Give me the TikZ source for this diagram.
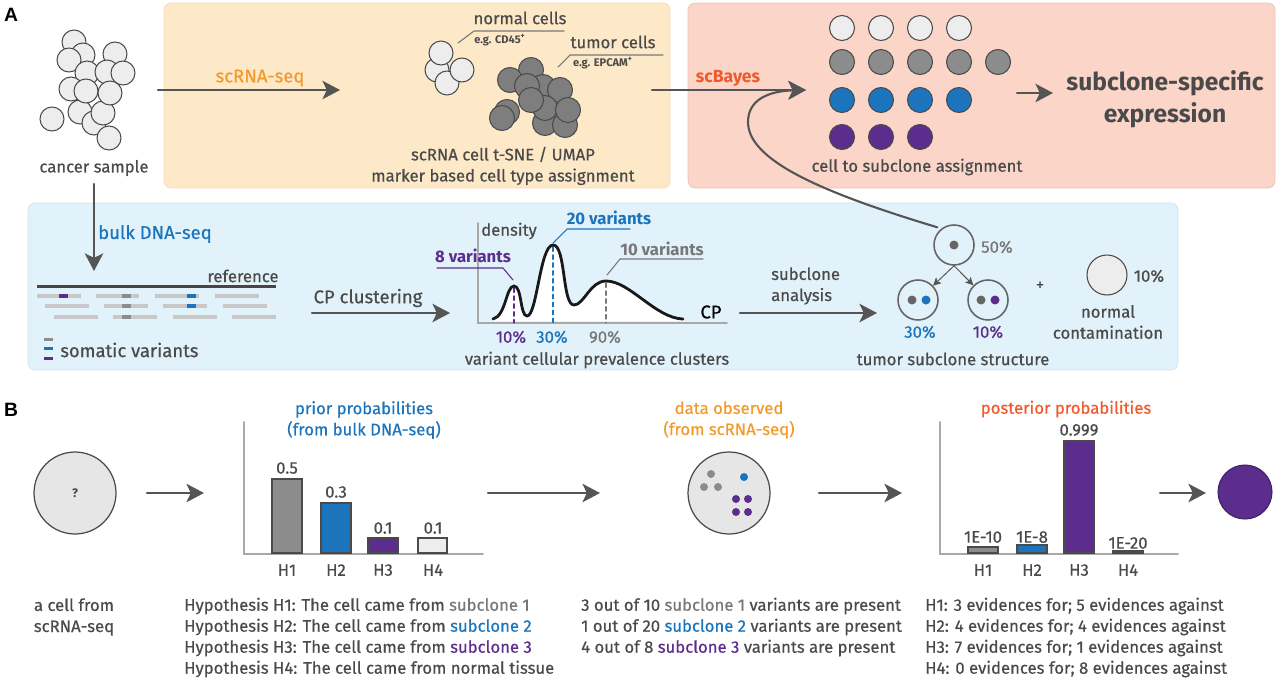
\documentclass[tikz,border=0pt]{standalone}
\usepackage{fontspec}
\setmainfont{Fira Sans}[UprightFeatures={FakeBold=0.5}]
\newfontfamily\headfont{Liberation Sans}
\usetikzlibrary{arrows.meta}

\definecolor{txtgray}{HTML}{4A4A4A}
\definecolor{arrgray}{HTML}{555555}
\definecolor{edgegray}{HTML}{4A4A4A}
\definecolor{cellgray}{HTML}{7E7E7E}
\definecolor{bargray}{HTML}{8C8C8C}
\definecolor{subgray}{HTML}{777777}
\definecolor{lightcell}{HTML}{EDEDED}
\definecolor{qfill}{HTML}{E6E6E6}
\definecolor{readgray}{HTML}{C8C8C8}
\definecolor{axisgray}{HTML}{A8A8A8}
\definecolor{refbrown}{HTML}{4A4541}
\definecolor{scblue}{HTML}{1C75BC}
\definecolor{scpurple}{HTML}{5C2D8C}
\definecolor{scorange}{HTML}{F39A2B}
\definecolor{scred}{HTML}{EE5A2C}
\definecolor{boxyellow}{RGB}{253,232,200}
\definecolor{boxyellowedge}{RGB}{248,220,178}
\definecolor{boxred}{RGB}{250,213,200}
\definecolor{boxrededge}{RGB}{240,192,180}
\definecolor{boxblue}{RGB}{226,242,250}
\definecolor{boxblueedge}{RGB}{206,228,240}

\begin{document}
\begin{tikzpicture}[x=0.02cm,y=-0.02cm,line cap=round,
  font=\fontsize{9.5}{12}\selectfont,text=txtgray,
  flow/.style={draw=arrgray,line width=1.2pt,-{Stealth[length=10pt,width=10.5pt,inset=2.5pt]}},
  thinflow/.style={draw=arrgray,line width=0.55pt,-{Stealth[length=4.5pt,width=4.5pt,inset=1pt]}},
  lcell/.style={fill=lightcell,draw=edgegray,line width=0.6pt},
  dcell/.style={fill=cellgray,draw=edgegray,line width=0.6pt},
  gcell/.style={fill=bargray,draw=edgegray,line width=0.6pt},
  bcell/.style={fill=scblue,draw=edgegray,line width=0.6pt},
  pcell/.style={fill=scpurple,draw=edgegray,line width=0.6pt},
  tnode/.style={circle,draw=edgegray!85,line width=0.9pt,minimum size=0.8cm,inner sep=0pt},
  qcell/.style={circle,fill=qfill,draw=edgegray,line width=0.7pt,minimum size=1.64cm,inner sep=0pt},
  leader/.style={line width=0.6pt},
  tag/.style={font=\fontsize{6.3}{7}\selectfont\bfseries},
  vlabel/.style={font=\fontsize{9.5}{12}\selectfont\bfseries},
  steplabel/.style={font=\fontsize{10.5}{12}\selectfont},
  panel/.style={font=\headfont\fontsize{11}{12}\selectfont\bfseries,text=black},
  bar/.style={draw=edgegray,line width=0.6pt}]
\useasboundingbox (0,0) rectangle (1280,683);

% ---- A: boxes
\filldraw[fill=boxyellow,draw=boxyellowedge,rounded corners=4pt] (164,3) rectangle (670,188);
\filldraw[fill=boxred,draw=boxrededge,rounded corners=4pt] (688,3) rectangle (1275,188);
\filldraw[fill=boxblue,draw=boxblueedge,rounded corners=4pt] (28,203) rectangle (1178,370);
\node[panel] (labA) at (11,15) {A};

% cancer sample
\draw[lcell] (74,42) circle (12);
\draw[lcell] (83,55) circle (12);
\draw[lcell] (69,60) circle (12);
\draw[lcell] (115,54) circle (12);
\draw[lcell] (87,73) circle (12);
\draw[lcell] (107,72) circle (12);
\draw[lcell] (123,73) circle (12);
\draw[lcell] (71,89) circle (12);
\draw[lcell] (80,112) circle (12);
\draw[lcell] (94,123) circle (12);
\draw[lcell] (86,91) circle (12);
\draw[lcell] (103,113) circle (12);
\draw[lcell] (110,93) circle (12);
\draw[lcell] (52,119) circle (12);
\draw[lcell] (109,138) circle (12);
\node (sample) at (94,168) {cancer sample};

% scRNA-seq
\coordinate (sampleR) at (158,90);
\coordinate (tsneL) at (340,90);
\draw[flow] (sampleR) -- (tsneL);
\node[steplabel,text=scorange] (scrna) at (260,78) {scRNA-seq};

\draw[lcell] (437,70) circle (12);
\draw[lcell] (441,53) circle (12);
\draw[lcell] (447,83) circle (12);
\draw[lcell] (462,70) circle (12);
\draw[dcell] (531,70) circle (12.5);
\draw[dcell] (510,80) circle (12.5);
\draw[dcell] (543,87) circle (12.5);
\draw[dcell] (560,90) circle (12.5);
\draw[dcell] (527,86) circle (12.5);
\draw[dcell] (507,112) circle (12.5);
\draw[dcell] (545,123) circle (12.5);
\draw[dcell] (565,125) circle (12.5);
\draw[dcell] (545,108) circle (12.5);
\draw[dcell] (568,110) circle (12.5);
\draw[dcell] (531,100) circle (12.5);
\draw[dcell] (502,118) circle (12.5);
\node (normal) at (520,18) {normal cells};
\node[tag] (cd45) at (500,40) {e.g. CD45\textsuperscript{+}};
\draw[leader,subgray] (564,31) -- (474,31) -- (458,43);
\node (tumor) at (613,42) {tumor cells};
\node[tag] (epcam) at (603,63) {e.g. EPCAM\textsuperscript{+}};
\draw[leader,subgray] (663,55) -- (570,55) -- (558,67);
\node[align=center] (tsne) at (503,166) {scRNA cell t-SNE / UMAP\\marker based cell type assignment};

% scBayes
\coordinate (tsneR) at (652,90);
\coordinate (assignL) at (806,90);
\draw[flow] (tsneR) -- (assignL);
\node[steplabel,font=\bfseries,text=scred] (scbayes) at (728,78) {scBayes};

\draw[lcell] (842,28) circle (12.5);
\draw[lcell] (881,28) circle (12.5);
\draw[lcell] (920,28) circle (12.5);
\draw[lcell] (959,28) circle (12.5);
\draw[gcell] (842,62) circle (12.5);
\draw[gcell] (881,62) circle (12.5);
\draw[gcell] (920,62) circle (12.5);
\draw[gcell] (959,62) circle (12.5);
\draw[gcell] (998,62) circle (12.5);
\draw[bcell] (842,100) circle (12.5);
\draw[bcell] (881,100) circle (12.5);
\draw[bcell] (920,100) circle (12.5);
\draw[bcell] (959,100) circle (12.5);
\draw[pcell] (842,137) circle (12.5);
\draw[pcell] (881,137) circle (12.5);
\draw[pcell] (920,137) circle (12.5);
\node (assign) at (917,167) {cell to subclone assignment};
\coordinate (assignR) at (1017,93);
\coordinate (exprL) at (1053,93);
\draw[flow] (assignR) -- (exprL);
\node[align=center,font=\fontsize{14}{18}\selectfont\bfseries] (subexpr) at (1165,99) {subclone-specific\\expression};

% bulk DNA-seq
\coordinate (sampleB) at (94,184);
\coordinate (readsT) at (94,271);
\draw[flow] (sampleB) -- (readsT);
\node[steplabel,text=scblue] (bulk) at (155,234) {bulk DNA-seq};
\draw[refbrown,line width=1.7pt,line cap=butt] (37,286) -- (276,286);
\node (ref) at (243,276) {reference};
\fill[readgray] (37,294) rectangle (81,298);
\fill[readgray] (96,294) rectangle (139,298);
\fill[readgray] (155,294) rectangle (199,298);
\fill[readgray] (215,294) rectangle (259,298);
\fill[readgray] (45,304) rectangle (89,308);
\fill[readgray] (104,304) rectangle (148,308);
\fill[readgray] (163,304) rectangle (207,308);
\fill[readgray] (223,304) rectangle (267,308);
\fill[readgray] (54,315) rectangle (98,319);
\fill[readgray] (113,315) rectangle (157,319);
\fill[readgray] (173,315) rectangle (217,319);
\fill[readgray] (232,315) rectangle (276,319);
\fill[scpurple] (59,294) rectangle (68,298);
\fill[bargray] (122,294) rectangle (131,298);
\fill[bargray] (122,304) rectangle (131,308);
\fill[bargray] (122,315) rectangle (131,319);
\fill[scblue] (187,294) rectangle (196,298);
\fill[scblue] (187,304) rectangle (196,308);
\fill[bargray] (44,338) rectangle (53,341);
\fill[scblue] (44,347) rectangle (53,350);
\fill[scpurple] (44,357) rectangle (53,360);
\node[steplabel,anchor=west,inner sep=0pt] (somatic) at (60,350) {somatic variants};

% CP clustering
\coordinate (readsR) at (312,313);
\coordinate (cpL) at (450,313);
\draw[flow] (readsR) -- (cpL);
\node[steplabel] (cpclust) at (368,298) {CP clustering};
\fill[white] (493,321) .. controls (506,316) and (506,286) .. (514,286) .. controls (522,286) and (520,316) .. (527,316) .. controls (537,316) and (540,245) .. (553,245) .. controls (566,245) and (562,305) .. (574,305) .. controls (584,305) and (590,281) .. (606,281) .. controls (630,281) and (655,318) .. (683,321) -- cycle;
\draw[axisgray,line width=1.1pt] (478,223) -- (478,323) -- (727,323);
\draw[dash pattern=on 2.5pt off 2pt,line width=0.7pt,scpurple] (514,288) -- (514,323);
\draw[dash pattern=on 2.5pt off 2pt,line width=0.7pt,scblue] (553,247) -- (553,323);
\draw[dash pattern=on 2.5pt off 2pt,line width=0.7pt,subgray] (606,283) -- (606,323);
\draw[black!90,line width=1.6pt] (493,319) .. controls (506,316) and (506,286) .. (514,286) .. controls (522,286) and (520,316) .. (527,316) .. controls (537,316) and (540,245) .. (553,245) .. controls (566,245) and (562,305) .. (574,305) .. controls (584,305) and (590,281) .. (606,281) .. controls (630,281) and (655,318) .. (683,319);
\node (density) at (509,231) {density};
\node[steplabel,text=black] (cp) at (711,312) {CP};
\node[vlabel,text=scpurple] (v8) at (473,256) {8 variants};
\draw[leader,scpurple] (437,268) -- (503,268) -- (513,280);
\node[vlabel,text=scblue] (v20) at (609,218) {20 variants};
\draw[leader,scblue] (630,229) -- (567,229) -- (553,243);
\node[vlabel,text=subgray] (v10) at (662,249) {10 variants};
\draw[leader,subgray] (703,259) -- (620,259) -- (607,275);
\node[text=scpurple] (p10) at (511,337) {10\%};
\node[text=scblue] (p30) at (552,337) {30\%};
\node[text=subgray] (p90) at (605,337) {90\%};
\node (vcpc) at (597,360) {variant cellular prevalence clusters};

% subclone analysis
\coordinate (cpR) at (740,313);
\coordinate (treeL) at (877,313);
\draw[flow] (cpR) -- (treeL);
\node[align=left,anchor=west] (subana) at (765,286) {subclone\\analysis};
\node[tnode] (root) at (954,245) {};
\node[tnode] (left) at (918,300) {};
\node[tnode] (right) at (988,300) {};
\fill[arrgray!90] (954,245) circle (4.5);
\fill[arrgray!90] (912,300) circle (4.5);
\fill[scblue] (926,300) circle (4.5);
\fill[arrgray!90] (981,300) circle (4.5);
\fill[scpurple] (995,300) circle (4.5);
\draw[thinflow] (root.south) -- (left);
\draw[thinflow] (root.south) -- (right);
\node[text=subgray] (pct50) at (997,247) {50\%};
\node[text=scblue] (pct30) at (920,332) {30\%};
\node[text=scpurple] (pct10) at (988,332) {10\%};
\node (plus) at (1040,286) {+};
\node[circle,fill=lightcell,draw=edgegray,line width=0.6pt,minimum size=0.8cm,inner sep=0pt] (normc) at (1107,275) {};
\node (pctn) at (1149,276) {10\%};
\node[align=center] (contam) at (1108,322) {normal\\contamination};
\node (tss) at (953,359) {tumor subclone structure};
\draw[flow] (root.north west) ++(-2,-3) .. controls (820,192) and (748,160) .. (748,122) .. controls (748,100) and (768,91) .. (assignL);

% ---- B
\node[panel] (labB) at (11,410) {B};
\node[qcell] (query) at (75,493) {\fontsize{7}{8}\selectfont\bfseries ?};
\node[align=center] (qtxt) at (74,617) {a cell from\\scRNA-seq};
\coordinate (queryR) at (147,493);
\coordinate (priorL) at (204,493);
\draw[flow] (queryR) -- (priorL);

% prior
\node[align=center,text=scblue] (prior) at (364,420) {prior probabilities\\(from bulk DNA-seq)};
\draw[axisgray,line width=1.1pt] (244,422) -- (244,554) -- (483,554);
\filldraw[bar,fill=bargray] (272,479) rectangle (302,553);
\filldraw[bar,fill=scblue] (321,503) rectangle (351,553);
\filldraw[bar,fill=scpurple] (368,538) rectangle (398,553);
\filldraw[bar,fill=lightcell] (418,538) rectangle (447,553);
\node (pv1) at (287,468) {0.5};
\node (pv2) at (336,492) {0.3};
\node (pv3) at (383,528) {0.1};
\node (pv4) at (433,528) {0.1};
\node (ph1) at (287,570) {H1};
\node (ph2) at (336,570) {H2};
\node (ph3) at (383,570) {H3};
\node (ph4) at (433,570) {H4};
\node[anchor=west] (hyp1) at (178,606) {Hypothesis H1: The cell came from \textcolor{subgray}{subclone 1}};
\node[anchor=west] (hyp2) at (178,627) {Hypothesis H2: The cell came from \textcolor{scblue}{subclone 2}};
\node[anchor=west] (hyp3) at (178,648) {Hypothesis H3: The cell came from \textcolor{scpurple}{subclone 3}};
\node[anchor=west] (hyp4) at (178,669) {Hypothesis H4: The cell came from normal tissue};
\coordinate (priorR) at (488,493);
\coordinate (obsL) at (600,493);
\draw[flow] (priorR) -- (obsL);

% data observed
\node[align=center,text=scorange] (obstitle) at (729,420) {data observed\\(from scRNA-seq)};
\node[qcell] (obs) at (729,493) {};
\fill[bargray] (711,474) circle (4);
\fill[bargray] (704,487) circle (4);
\fill[bargray] (718,487) circle (4);
\fill[scblue] (744,477) circle (4);
\fill[scpurple] (736,499) circle (4);
\fill[scpurple] (748,499) circle (4);
\fill[scpurple] (736,512) circle (4);
\fill[scpurple] (748,512) circle (4);
\node[anchor=west] (dat1) at (575,606) {3 out of 10 \textcolor{subgray}{subclone 1} variants are present};
\node[anchor=west] (dat2) at (575,627) {1 out of 20 \textcolor{scblue}{subclone 2} variants are present};
\node[anchor=west] (dat3) at (575,648) {4 out of 8 \textcolor{scpurple}{subclone 3} variants are present};
\coordinate (obsR) at (819,493);
\coordinate (postL) at (902,493);
\draw[flow] (obsR) -- (postL);

% posterior
\node[text=scred] (post) at (1066,409) {posterior probabilities};
\draw[axisgray,line width=1.1pt] (940,422) -- (940,554) -- (1178,554);
\filldraw[bar,fill=bargray] (968,547) rectangle (998,553);
\filldraw[bar,fill=scblue] (1017,545) rectangle (1047,553);
\filldraw[bar,fill=scpurple] (1064,441) rectangle (1094,553);
\filldraw[bar,fill=lightcell] (1113,551) rectangle (1143,553);
\node (qv1) at (983,537) {1E-10};
\node (qv2) at (1032,537) {1E-8};
\node (qv3) at (1079,430) {0.999};
\node (qv4) at (1128,543) {1E-20};
\node (qh1) at (983,570) {H1};
\node (qh2) at (1032,570) {H2};
\node (qh3) at (1079,570) {H3};
\node (qh4) at (1128,570) {H4};
\node[anchor=west] (ev1) at (919,606) {H1: 3 evidences for; 5 evidences against};
\node[anchor=west] (ev2) at (919,627) {H2: 4 evidences for; 4 evidences against};
\node[anchor=west] (ev3) at (919,648) {H3: 7 evidences for; 1 evidences against};
\node[anchor=west] (ev4) at (919,669) {H4: 0 evidences for; 8 evidences against};
\coordinate (postR) at (1160,493);
\coordinate (resL) at (1206,493);
\draw[flow] (postR) -- (resL);
\node[circle,fill=scpurple,draw=scpurple!70!black,line width=0.6pt,minimum size=1.08cm,inner sep=0pt] (result) at (1245,492) {};
\end{tikzpicture}
\end{document}
